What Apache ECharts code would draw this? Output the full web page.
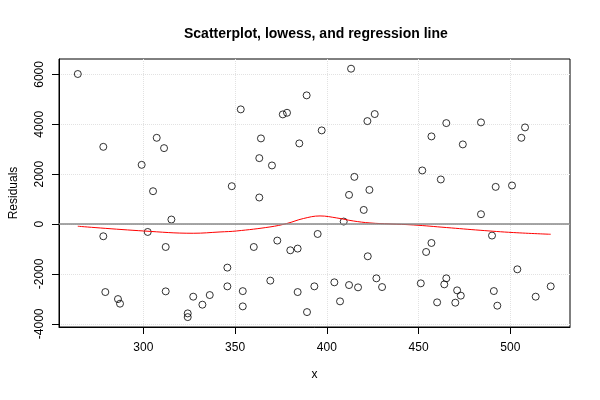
<!DOCTYPE html>
<html><head><meta charset="utf-8">
<script src="https://cdn.jsdelivr.net/npm/echarts@6/dist/echarts.min.js"></script>
<style>html,body{margin:0;padding:0;background:#fff}#c{width:600px;height:400px}</style>
</head><body><div id="c"></div>
<script>
// Scatter data: x values and residuals
const xValues = [264.3,278.2,307.3,311.3,299.1,305.3,348.2,315.3,278.2,302.4,312.2,345.8,279.3,286.2,287.3,312.2,324.2,324.2,327.2,332.2,336.2,345.8,
  413.2,389.0,353.1,376.0,378.3,422.1,426.1,397.2,364.1,385.0,363.2,370.1,415.0,423.2,412.1,363.2,420.1,409.2,395.0,360.2,373.0,380.1,384.1,422.3,
  354.2,354.2,369.2,384.1,393.2,389.2,404.1,407.2,412.1,417.0,427.0,430.1,
  452.0,462.1,465.1,457.0,484.0,474.1,508.0,506.0,492.0,500.9,484.0,490.0,457.0,454.1,503.8,451.2,465.1,464.0,471.0,473.0,460.1,470.0,491.0,492.9,513.8,522.0];
const residuals = [6016,3096,3458,3044,2374,1317,1518,181,-490,-317,-920,-1747,-2727,-3008,-3193,-2699,-3582,-3731,-2912,-3233,-2847,-2498,
  6229,5160,4598,4397,4462,4128,4410,3755,3434,3233,2643,2349,1892,1369,1169,1064,566,100,-398,-920,-663,-1052,-984,-1293,
  -2690,-3301,-2269,-2727,-2498,-3530,-2337,-3100,-2446,-2538,-2177,-2526,
  2149,1787,4048,3514,4076,3193,3875,3458,1490,1546,394,-462,-759,-1120,-1815,-2377,-2177,-2418,-2659,-2871,-3140,-3153,-2687,-3273,-2912,-2498];
// Lowess curve
const lowessX = [264.3,300,327.2,341.8,350.9,369,378.1,387.2,396.3,405.4,414.4,423.5,434.4,447.1,465.3,483.5,501.6,522];
const lowessY = [-88,-277,-369,-317,-277,-116,20,221,325,245,124,44,4,-36,-141,-249,-341,-410];
// Regression line of residuals on x (horizontal at 0)
const regressionLevel = 0;
// Axis ticks
const xTicks = [300,350,400,450,500];
const yTicks = [-4000,-2000,0,2000,4000,6000];
const xRange = [254.06, 532.5];
const yRange = [-4128, 6618];

const FONT = 'Liberation Sans, Arial, Helvetica, sans-serif';
const chart = echarts.init(document.getElementById('c'), null, {renderer: 'canvas'});
const scatterData = xValues.map((x, i) => [x, residuals[i]]);
const lowessData = lowessX.map((x, i) => [x, lowessY[i]]);
const plain = v => String(v);

chart.setOption({
  animation: false,
  backgroundColor: '#fff',
  textStyle: {fontFamily: FONT},
  title: {
    text: 'Scatterplot, lowess, and regression line',
    left: 179, top: 22,
    textStyle: {fontFamily: FONT, fontSize: 14, fontWeight: 'bold', color: '#000'}
  },
  grid: {left: 59, right: 30, top: 59, bottom: 73, show: true, borderColor: '#000', borderWidth: 1,
    containLabel: false, outerBoundsMode: 'none'},
  xAxis: {
    type: 'value', min: xRange[0], max: xRange[1],
    name: 'x', nameLocation: 'middle', nameGap: 42,
    nameTextStyle: {fontFamily: FONT, fontSize: 12, color: '#000'},
    axisLine: {show: true, onZero: false, lineStyle: {color: '#000', width: 1}},
    axisTick: {show: true, length: 7, customValues: xTicks, lineStyle: {color: '#000'}},
    axisLabel: {customValues: xTicks, formatter: plain, margin: 15, fontFamily: FONT, fontSize: 12, color: '#000'},
    splitLine: {show: true, lineStyle: {color: '#e2e2e2', type: 'dotted', width: 1}}
  },
  yAxis: {
    type: 'value', min: yRange[0], max: yRange[1],
    name: 'Residuals', nameLocation: 'middle', nameGap: 39, nameRotate: 90,
    nameTextStyle: {fontFamily: FONT, fontSize: 12, color: '#000'},
    axisLine: {show: true, onZero: false, lineStyle: {color: '#000', width: 1}},
    axisTick: {show: true, length: 7, customValues: yTicks, lineStyle: {color: '#000'}},
    axisLabel: {customValues: yTicks, formatter: plain, rotate: 90, margin: 13, fontFamily: FONT, fontSize: 12, color: '#000'},
    splitLine: {show: true, lineStyle: {color: '#e2e2e2', type: 'dotted', width: 1}}
  },
  series: [
    {
      type: 'scatter', data: scatterData, symbol: 'circle', symbolSize: 7,
      itemStyle: {color: 'rgba(0,0,0,0)', borderColor: '#000', borderWidth: 1},
      emphasis: {disabled: true}, silent: true, z: 2
    },
    {
      type: 'line', data: lowessData, showSymbol: false, smooth: 0.4,
      lineStyle: {color: '#ff0000', width: 1}, silent: true, z: 3
    },
    {
      type: 'line', data: [], silent: true, z: 4,
      markLine: {
        silent: true, symbol: ['none', 'none'], label: {show: false},
        lineStyle: {color: '#888', width: 1.5, type: 'solid'},
        data: [{yAxis: regressionLevel}]
      }
    }
  ]
});
</script>
</body></html>
